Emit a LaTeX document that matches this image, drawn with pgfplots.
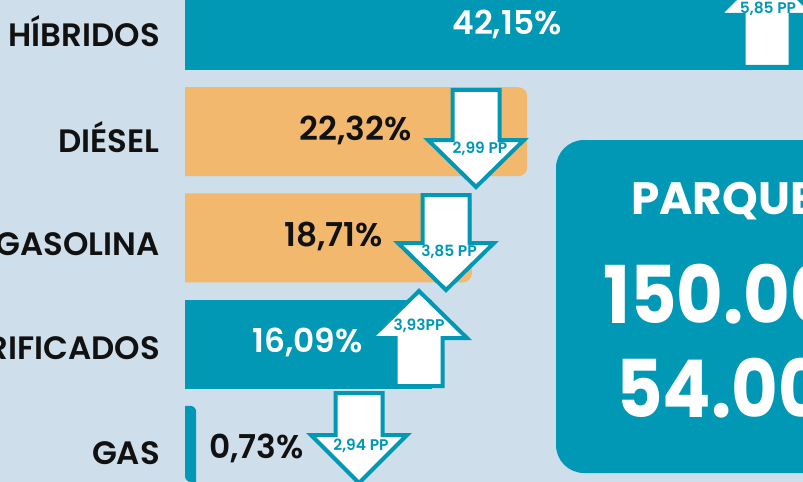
\documentclass[border=0pt]{standalone}
\usepackage{pgfplots}
\pgfplotsset{compat=1.18}
\usepackage{fontspec}
\setmainfont{Poppins}[BoldFont={Poppins SemiBold}]
\newfontfamily\boxfont{Poppins Bold}[FakeStretch=0.9]
\newfontfamily\titlefont{Poppins Bold}
\definecolor{bgc}{HTML}{CEDEEA}
\definecolor{tealc}{HTML}{0098B4}
\definecolor{orngc}{HTML}{F2B96E}
\definecolor{inkc}{HTML}{111111}
\newcommand{\downarr}[4]{% cx, top, head, tip
  \draw[line width=4bp, tealc, fill=white, line join=miter]
    (#1-23.5,#2) -- (#1+23.5,#2) -- (#1+23.5,#3) -- (#1+48,#3) -- (#1,#4)
    -- (#1-48,#3) -- (#1-23.5,#3) -- cycle;}
\newcommand{\uparr}[4]{% cx, bottom, head, tip
  \draw[line width=4bp, tealc, fill=white, line join=miter]
    (#1-23.5,#2) -- (#1+23.5,#2) -- (#1+23.5,#3) -- (#1+48,#3) -- (#1,#4)
    -- (#1-48,#3) -- (#1-23.5,#3) -- cycle;}
\begin{document}
\begin{tikzpicture}
\path[use as bounding box] (0bp,0bp) rectangle (803bp,482bp);
\fill[bgc] (0bp,0bp) rectangle (803bp,482bp);
\clip (0bp,0bp) rectangle (803bp,482bp);
% ---------- bars ----------
\begin{axis}[at={(185bp,0bp)}, anchor=south west, width=618bp, height=482bp,
  scale only axis, hide axis, xmin=0, xmax=40.31, ymin=-0.240, ymax=4.298,
  y dir=reverse, clip mode=individual]
% HIBRIDOS 42.15
\addplot[fill=tealc, draw=none] coordinates {(-2,-0.419) (42.15,-0.419) (42.15,0.419) (-2,0.419)} -- cycle;
% DIESEL 22.32
\addplot[fill=orngc, draw=none, rounded corners=9bp] coordinates {(-2,0.581) (22.32,0.581) (22.32,1.419) (-2,1.419)} -- cycle;
% GASOLINA 18.71
\addplot[fill=orngc, draw=none, rounded corners=9bp] coordinates {(-2,1.581) (18.71,1.581) (18.71,2.419) (-2,2.419)} -- cycle;
% ELECTRIFICADOS 16.09
\addplot[fill=tealc, draw=none] coordinates {(-2,2.581) (16.09,2.581) (16.09,3.419) (-2,3.419)} -- cycle;
% GAS 0.73
\addplot[fill=tealc, draw=none, rounded corners=6bp] coordinates {(-2,3.581) (0.73,3.581) (0.73,4.419) (-2,4.419)} -- cycle;
\end{axis}
% ---------- overlay ----------
\begin{axis}[at={(0bp,0bp)}, anchor=south west, width=803bp, height=482bp,
  scale only axis, hide axis, xmin=0, xmax=803, ymin=0, ymax=482,
  y dir=reverse, clip=false]
% category labels
\begin{scope}[every node/.style={anchor=east, inner sep=0pt, font=\fontsize{32.5}{32.5}\selectfont\bfseries, text=inkc}]
\node at (160,31) {HÍBRIDOS};
\node at (160,137) {DIÉSEL};
\node at (160,244) {GASOLINA};
\node at (160,348) {ELECTRIFICADOS};
\node at (160,453) {GAS};
\end{scope}
% value labels
\begin{scope}[every node/.style={inner sep=0pt, font=\fontsize{33}{33}\selectfont\bfseries}]
\node[text=white] at (507,24) {42,15\%};
\node[text=inkc, anchor=east] at (412,130) {22,32\%};
\node[text=inkc, anchor=east] at (383,236) {18,71\%};
\node[text=white, anchor=east] at (363,342) {16,09\%};
\node[text=inkc, anchor=west] at (209,448) {0,73\%};
\end{scope}
% arrows
\uparr{767}{67}{15}{-33}
\downarr{476}{90}{140}{187}
\downarr{446}{195}{243}{290}
\uparr{419}{386}{338}{291}
\downarr{359}{393}{435}{483}
\begin{scope}[every node/.style={inner sep=0pt, text=tealc, font=\fontsize{15.5}{15.5}\selectfont\bfseries}]
\node at (768,9) {5,85 PP};
\node at (480,149) {2,99 PP};
\node at (449,252) {3,85 PP};
\node at (419,326) {3,93PP};
\node at (361,446) {2,94 PP};
\end{scope}
% PARQUE box
\fill[tealc, rounded corners=28bp] (556,140) rectangle (880,473);
\node[anchor=base west, inner sep=0pt, text=white, font=\fontsize{45.5}{45.5}\titlefont] at (631,214) {PARQUE};
\node[anchor=base west, inner sep=0pt, text=white, font=\fontsize{80}{80}\boxfont] at (603,323) {150.000};
\node[anchor=base west, inner sep=0pt, text=white, font=\fontsize{80}{80}\boxfont] at (616,417) {54.000};
\end{axis}
\end{tikzpicture}
\end{document}
